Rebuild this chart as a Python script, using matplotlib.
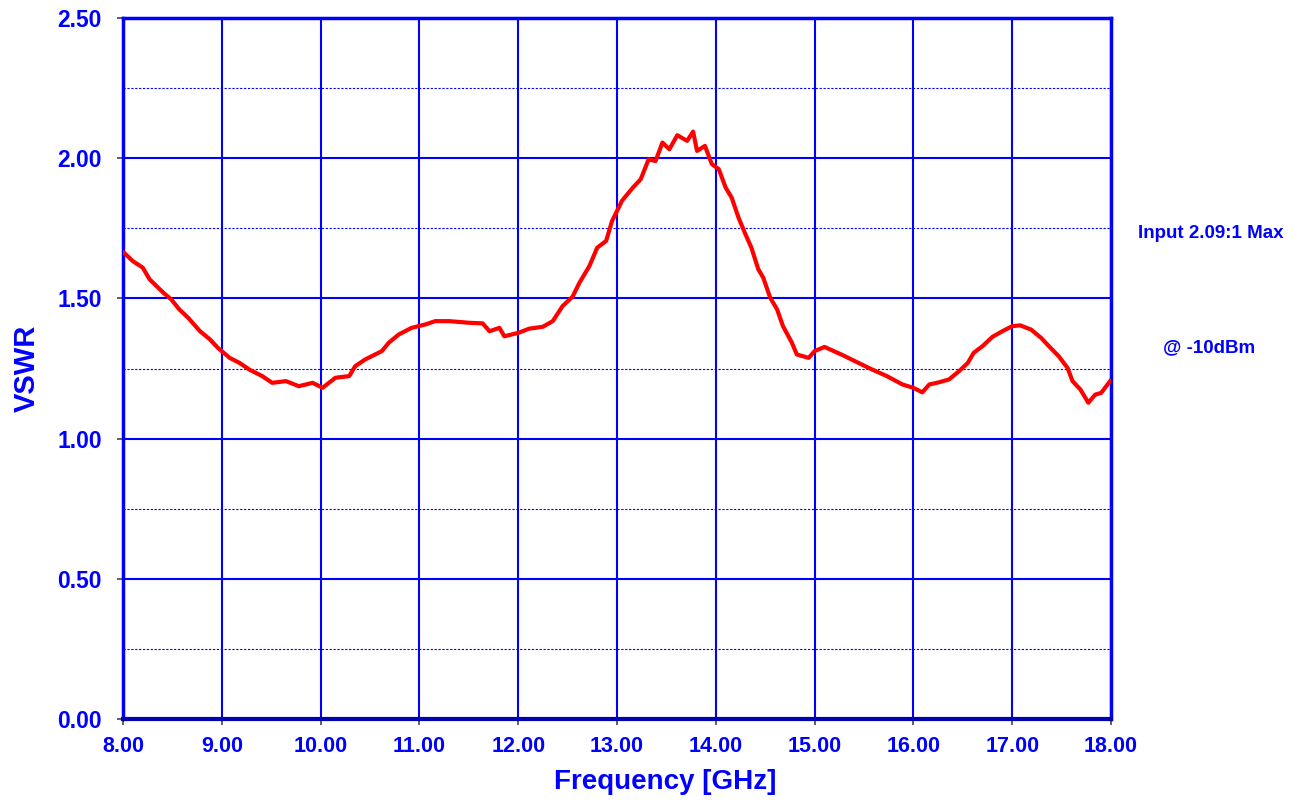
import numpy as np
import matplotlib.pyplot as plt

# VSWR readings, input port, -10 dBm drive
freq_ghz = [8.01, 8.10, 8.20, 8.27, 8.34, 8.41, 8.49, 8.57, 8.66, 8.78,
            8.88, 8.96, 9.08, 9.18, 9.28, 9.41, 9.51, 9.65, 9.78, 9.92,
            10.02, 10.15, 10.29, 10.35, 10.45, 10.62, 10.69, 10.79, 10.92, 11.06,
            11.16, 11.30, 11.51, 11.64, 11.71, 11.81, 11.86, 12.00, 12.11, 12.25,
            12.35, 12.45, 12.55, 12.62, 12.72, 12.80, 12.89, 12.95, 13.05, 13.16,
            13.24, 13.32, 13.39, 13.46, 13.53, 13.61, 13.71, 13.77, 13.81, 13.89,
            13.96, 14.03, 14.10, 14.16, 14.23, 14.30, 14.36, 14.43, 14.48, 14.55,
            14.62, 14.68, 14.77, 14.82, 14.94, 15.00, 15.10, 15.27, 15.41, 15.56,
            15.73, 15.89, 16.00, 16.09, 16.16, 16.26, 16.36, 16.46, 16.55, 16.61,
            16.70, 16.80, 16.90, 17.00, 17.08, 17.19, 17.29, 17.37, 17.47, 17.56,
            17.61, 17.69, 17.77, 17.84, 17.90, 17.99]
vswr = [1.663, 1.633, 1.610, 1.568, 1.544, 1.520, 1.496, 1.461, 1.431, 1.383,
        1.354, 1.324, 1.288, 1.270, 1.246, 1.223, 1.199, 1.205, 1.187, 1.199,
        1.181, 1.217, 1.223, 1.258, 1.282, 1.312, 1.342, 1.371, 1.395, 1.407,
        1.419, 1.419, 1.413, 1.411, 1.383, 1.395, 1.365, 1.377, 1.392, 1.399,
        1.419, 1.473, 1.506, 1.556, 1.615, 1.681, 1.705, 1.776, 1.848, 1.895,
        1.925, 1.996, 1.990, 2.056, 2.032, 2.082, 2.062, 2.095, 2.026, 2.044,
        1.979, 1.961, 1.895, 1.860, 1.788, 1.729, 1.681, 1.604, 1.574, 1.503,
        1.461, 1.401, 1.342, 1.300, 1.288, 1.312, 1.327, 1.300, 1.276, 1.250,
        1.223, 1.193, 1.181, 1.165, 1.193, 1.201, 1.211, 1.240, 1.270, 1.306,
        1.330, 1.363, 1.383, 1.401, 1.404, 1.389, 1.360, 1.330, 1.294, 1.252,
        1.205, 1.175, 1.128, 1.157, 1.163, 1.205]

x_ticks = np.arange(8, 18.01, 1.0)
y_ticks = np.arange(0, 2.51, 0.5)
y_minor = np.arange(0.25, 2.5, 0.5)

blue = "#0000FF"
plt.rcParams["font.family"] = ["Liberation Sans", "DejaVu Sans"]
plt.rcParams["font.weight"] = "bold"

fig = plt.figure(figsize=(13.01, 8.02), dpi=100)
ax = fig.add_axes([0.0945, 0.1035, 0.7595, 0.874])

ax.plot(freq_ghz, vswr, color="red", lw=3.0, zorder=3)

ax.set_xlim(8, 18)
ax.set_ylim(0, 2.5)
ax.set_xticks(x_ticks)
ax.set_yticks(y_ticks)
ax.set_yticks(y_minor, minor=True)
ax.set_xticklabels([f"{t:.2f}" for t in x_ticks])
ax.set_yticklabels([f"{t:.2f}" for t in y_ticks])

ax.grid(which="major", color=blue, lw=1.5)
ax.grid(which="minor", axis="y", color=blue, lw=0.8, ls=(0, (2, 1.5)))
ax.tick_params(which="major", direction="out", length=4, width=1.2,
               color="#444444", labelcolor=blue)
ax.tick_params(axis="x", which="major", labelsize=15.5, pad=8)
ax.tick_params(axis="y", which="major", labelsize=16.5, pad=11)
ax.tick_params(which="minor", length=0)
for lab in ax.get_xticklabels() + ax.get_yticklabels():
    lab.set_fontweight("bold")

for side in ["top", "right", "left"]:
    ax.spines[side].set_color(blue)
    ax.spines[side].set_linewidth(2.5)
ax.spines["bottom"].set_color("#0000B0")
ax.spines["bottom"].set_linewidth(3)

ax.set_ylabel("VSWR", color=blue, fontsize=21, fontweight="bold", labelpad=12)
fig.text(0.511, 0.025, "Frequency [GHz]", color=blue, fontsize=20,
         fontweight="bold", ha="center", va="center")

fig.text(0.931, 0.709, "Input 2.09:1 Max", color=blue, fontsize=13.5,
         fontweight="bold", ha="center", va="center")
fig.text(0.929, 0.566, "@ -10dBm", color=blue, fontsize=13.5,
         fontweight="bold", ha="center", va="center")

fig.savefig("out.png", dpi=100)
